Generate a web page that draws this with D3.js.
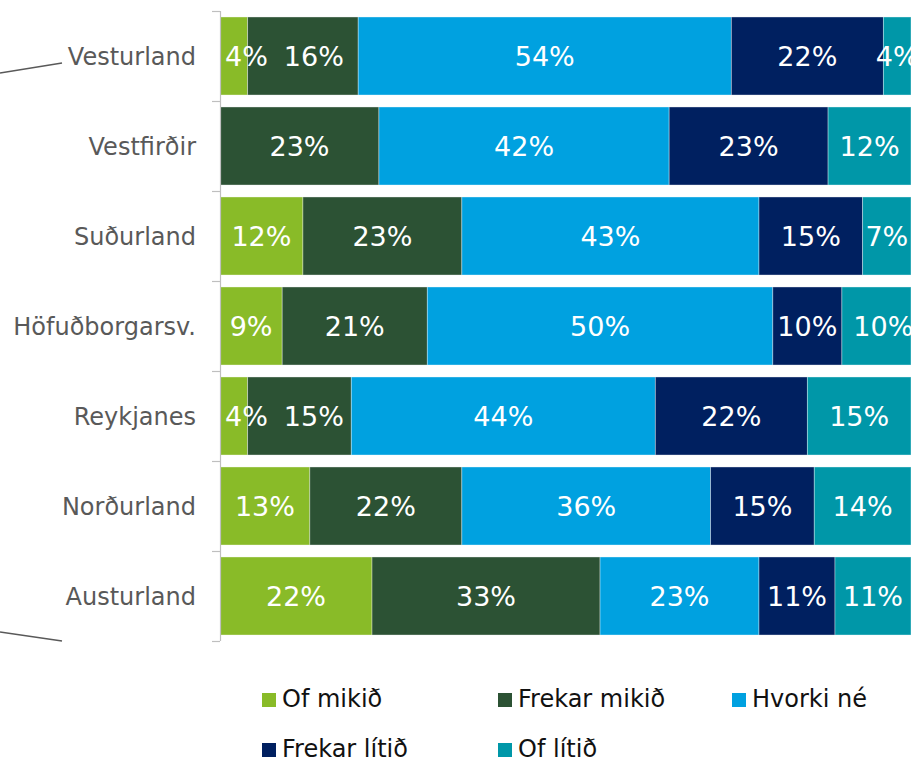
<!DOCTYPE html>
<html lang="is">
<head>
    <meta charset="UTF-8">
    <title>Stacked bars by region</title>
    <script src="https://cdn.jsdelivr.net/npm/d3@7"></script>
    <style>
        body { margin: 0; background: #fff; }
        svg { display: block; font-family: "DejaVu Sans", Verdana, sans-serif; }
        .cat { fill: #595959; font-size: 24px; }
        .val { fill: #fff; font-size: 27px; }
        .leg { fill: #111; font-size: 24px; }
    </style>
</head>
<body>
    <svg width="912" height="761"></svg>
    <script>
        const regions = ["Vesturland", "Vestfirðir", "Suðurland", "Höfuðborgarsv.", "Reykjanes", "Norðurland", "Austurland"];
        const seriesNames = ["Of mikið", "Frekar mikið", "Hvorki né", "Frekar lítið", "Of lítið"];
        const colors = ["#89bb28", "#2c5234", "#00a1e0", "#002060", "#0097a8"];

        const ofMikid     = [4, 0, 12, 9, 4, 13, 22];
        const frekarMikid = [16, 23, 23, 21, 15, 22, 33];
        const hvorkiNe    = [54, 42, 43, 50, 44, 36, 23];
        const frekarLitid = [22, 23, 15, 10, 22, 15, 11];
        const ofLitid     = [4, 12, 7, 10, 15, 14, 11];

        const seriesValues = [ofMikid, frekarMikid, hvorkiNe, frekarLitid, ofLitid];

        const rows = regions.map((r, i) => {
            const row = { region: r };
            seriesNames.forEach((s, j) => row[s] = seriesValues[j][i]);
            return row;
        });

        const svg = d3.select("svg");

        const x = d3.scaleLinear().domain([0, 100]).range([220, 911]);
        const y = d3.scaleBand()
            .domain(regions)
            .range([11, 641])
            .paddingInner(0.133)
            .paddingOuter(0.0665);

        const stack = d3.stack().keys(seriesNames);
        const layers = stack(rows);

        // bars
        const g = svg.append("g");
        layers.forEach((layer, j) => {
            g.selectAll(null)
                .data(layer.filter(d => d[1] - d[0] > 0))
                .join("rect")
                .attr("x", d => x(d[0]))
                .attr("y", d => y(d.data.region))
                .attr("width", d => x(d[1]) - x(d[0]))
                .attr("height", y.bandwidth())
                .attr("fill", colors[j])
                .attr("stroke", "rgba(255,255,255,0.45)")
                .attr("stroke-width", 0.8);
        });

        // value labels, centred, pushed right when they would collide
        const labels = svg.append("g");
        regions.forEach((r, i) => {
            let lastRight = x(0) + 5;
            let first = true;
            layers.forEach(layer => {
                const d = layer[i];
                const v = d[1] - d[0];
                if (v <= 0) return;
                const t = labels.append("text")
                    .attr("class", "val")
                    .attr("text-anchor", "middle")
                    .attr("y", y(r) + y.bandwidth() / 2)
                    .attr("dy", "0.36em")
                    .text(v + "%");
                const w = t.node().getComputedTextLength();
                let cx = (x(d[0]) + x(d[1])) / 2;
                const gap = first ? 0 : 16;
                if (cx - w / 2 < lastRight + gap) cx = lastRight + gap + w / 2;
                t.attr("x", cx);
                lastRight = cx + w / 2;
                first = false;
            });
        });

        // axis line with ticks at band edges
        const axis = svg.append("g").attr("stroke", "#bfbfbf").attr("stroke-width", 1.2);
        axis.append("line")
            .attr("x1", 220.5).attr("x2", 220.5)
            .attr("y1", 11).attr("y2", 641);
        const edges = d3.range(regions.length + 1).map(i => y.range()[0] + i * y.step());
        axis.selectAll(null)
            .data(edges)
            .join("line")
            .attr("x1", 212).attr("x2", 220)
            .attr("y1", d => Math.round(d) + 0.5)
            .attr("y2", d => Math.round(d) + 0.5);

        // category labels
        svg.append("g")
            .selectAll("text")
            .data(regions)
            .join("text")
            .attr("class", "cat")
            .attr("text-anchor", "end")
            .attr("x", 196)
            .attr("y", d => y(d) + y.bandwidth() / 2)
            .attr("dy", "0.36em")
            .text(d => d);

        // leader lines on the left edge
        svg.append("g")
            .attr("stroke", "#595959")
            .attr("stroke-width", 1.5)
            .selectAll("line")
            .data([[0, 73, 62, 63], [0, 632, 62, 641]])
            .join("line")
            .attr("x1", d => d[0]).attr("y1", d => d[1])
            .attr("x2", d => d[2]).attr("y2", d => d[3]);

        // legend
        const legX = [262, 498, 732];
        const legY = [707, 757];
        const leg = svg.append("g")
            .selectAll("g")
            .data(seriesNames)
            .join("g")
            .attr("transform", (d, i) => `translate(${legX[i % 3]},${legY[Math.floor(i / 3)]})`);
        leg.append("rect")
            .attr("x", 0).attr("y", -14)
            .attr("width", 14).attr("height", 14)
            .attr("fill", (d, i) => colors[i]);
        leg.append("text")
            .attr("class", "leg")
            .attr("x", 20)
            .attr("y", 0)
            .text(d => d);
    </script>
</body>
</html>
